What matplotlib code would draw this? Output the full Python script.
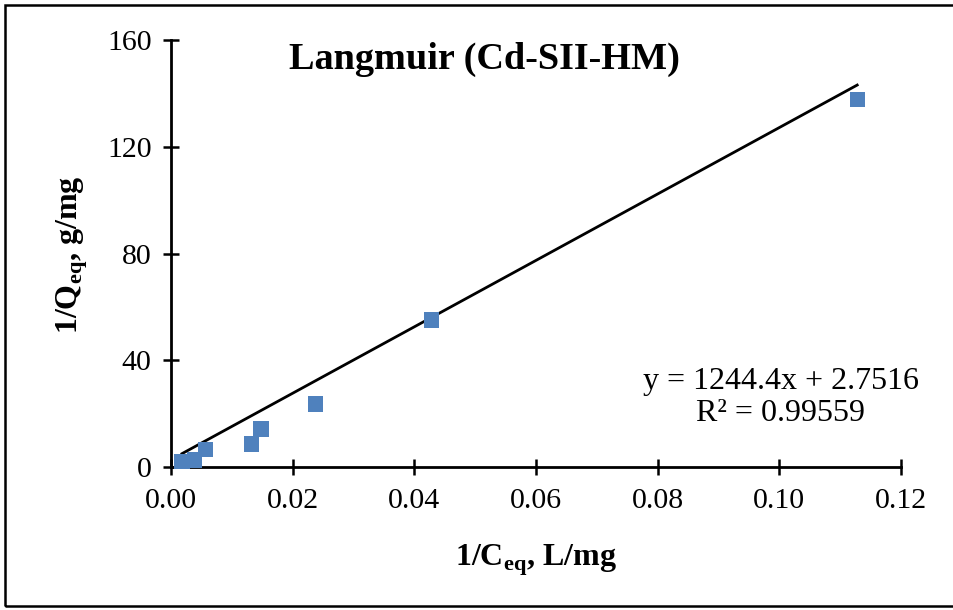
import matplotlib
matplotlib.use("Agg")
import matplotlib.pyplot as plt
import numpy as np
from matplotlib.patches import Rectangle

# Langmuir linearisation: 1/Qeq against 1/Ceq
inv_ceq = [0.0018, 0.0038, 0.0057, 0.0132, 0.0148, 0.0237, 0.0428, 0.1128]
inv_qeq = [2.0, 2.6, 6.7, 8.6, 14.2, 23.6, 55.1, 137.6]

slope = 1244.4
intercept = 2.7516
r_squared = 0.99559

x_ticks = [0.00, 0.02, 0.04, 0.06, 0.08, 0.10, 0.12]
y_ticks = [0, 40, 80, 120, 160]

plt.rcParams["font.family"] = ["Liberation Serif", "DejaVu Serif"]
plt.rcParams["mathtext.fontset"] = "custom"
plt.rcParams["mathtext.rm"] = "Liberation Serif"
plt.rcParams["mathtext.bf"] = "Liberation Serif:bold"

fig = plt.figure(figsize=(9.54, 6.10), dpi=100)
ax = fig.add_axes([171 / 954, 1 - 467 / 610, 730 / 954, 427 / 610])

# outer chart frame (runs off the right edge)
fig.patches.append(Rectangle((5 / 954, 4 / 610), 1.2, 601 / 610,
                             transform=fig.transFigure, fill=False,
                             edgecolor="black", linewidth=1.8))

ax.scatter(inv_ceq, inv_qeq, marker="s", s=120, color="#4F81BD",
           edgecolors="none", zorder=3, clip_on=False)

xs = np.array([min(inv_ceq), max(inv_ceq)])
ax.plot(xs, slope * xs + intercept, color="black", linewidth=2.0, zorder=2)

ax.set_xlim(0, 0.12)
ax.set_ylim(0, 160)
ax.set_xticks(x_ticks)
ax.set_xticklabels([f"{v:.2f}" for v in x_ticks])
ax.set_yticks(y_ticks)

for side in ("top", "right"):
    ax.spines[side].set_visible(False)
for side in ("left", "bottom"):
    ax.spines[side].set_linewidth(2.0)

ax.tick_params(direction="inout", length=12, width=1.8, labelsize=21.5)
ax.tick_params(axis="x", pad=9)
ax.tick_params(axis="y", pad=8)

fig.text(536 / 954, 1 - 560 / 610, r"1/C$_{\mathbf{eq}}$, L/mg",
         ha="center", va="center", fontsize=23, fontweight="bold")
fig.text(72 / 954, 1 - 255 / 610, r"1/Q$_{\mathbf{eq}}$, g/mg",
         ha="center", va="center", rotation=90, fontsize=23,
         fontweight="bold")

ax.text(0.43, 0.955, "Langmuir (Cd-SII-HM)", transform=ax.transAxes,
        ha="center", va="center", fontsize=27.5, fontweight="bold")

ax.text(0.835, 0.163, f"y = {slope}x + {intercept}\nR² = {r_squared}",
        transform=ax.transAxes, ha="center", va="center", fontsize=23,
        linespacing=1.15)

fig.savefig("out.png", dpi=100)
